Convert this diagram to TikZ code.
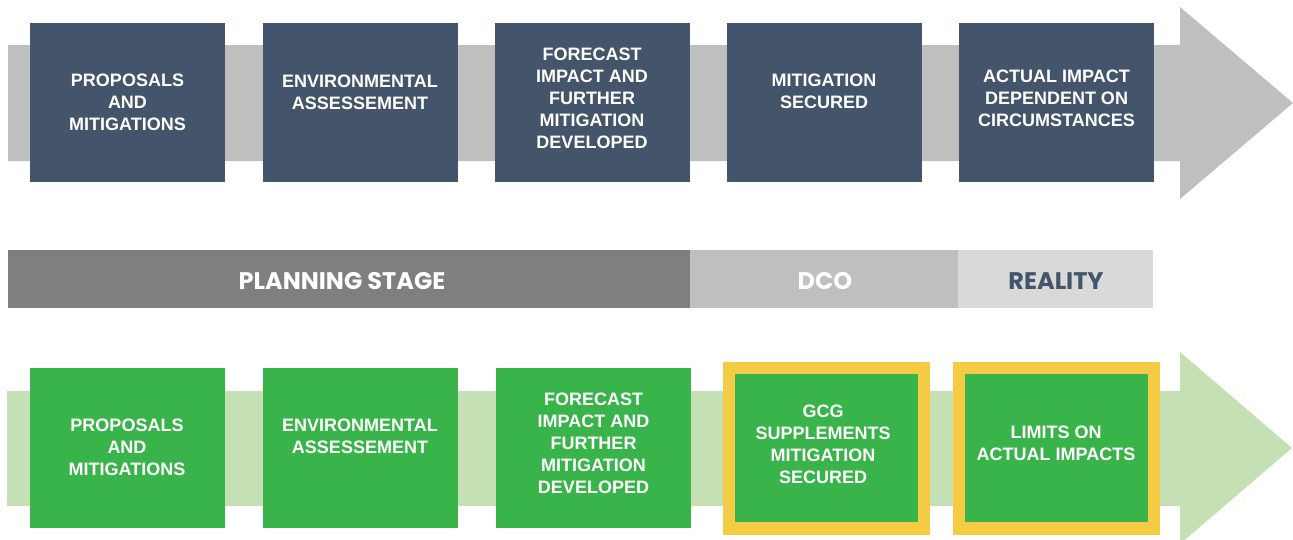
\documentclass[tikz,border=0pt]{standalone}
\usepackage{fontspec}
\setmainfont{Liberation Sans}
\newfontfamily\popfont{Poppins}
\definecolor{navy}{HTML}{44546A}
\definecolor{arrowgray}{HTML}{BFBFBF}
\definecolor{planning}{HTML}{7F7F7F}
\definecolor{dcogray}{HTML}{BFBFBF}
\definecolor{realgray}{HTML}{D9D9D9}
\definecolor{boxgreen}{HTML}{39B44A}
\definecolor{lightgreen}{HTML}{C5E0B4}
\definecolor{goldframe}{HTML}{F5CB44}
\begin{document}
\begin{tikzpicture}[x=1pt,y=-1pt,
  boxtxt/.style={text=white, font=\fontsize{18}{22}\selectfont\bfseries, align=center, inner sep=0pt},
  bandtxt/.style={font=\popfont\fontsize{24}{28}\selectfont\bfseries, inner sep=0pt},
  navybox/.style={fill=navy, draw=none, inner sep=0pt, minimum width=195pt, minimum height=159pt},
  greenbox/.style={fill=boxgreen, draw=none, inner sep=0pt, minimum width=195pt, minimum height=160pt},
  framebox/.style={fill=goldframe, draw=none, inner sep=0pt, minimum width=207pt, minimum height=173pt},
  innerbox/.style={fill=boxgreen, draw=none, inner sep=0pt, minimum width=183pt, minimum height=148pt},
  bandbox/.style={draw=none, inner sep=0pt, minimum height=58pt}
]
\useasboundingbox (0,0) rectangle (1293,539);
\clip (0,0) rectangle (1293,539);

% top arrow
\fill[arrowgray] (8,45) -- (1180,45) -- (1180,7) -- (1293,103) -- (1180,199) -- (1180,161) -- (8,161) -- cycle;

% top boxes
\node[navybox] (t1) at (127.5,102.5) {};
\node[navybox] (t2) at (360,102.5) {};
\node[navybox] (t3) at (592,102.5) {};
\node[navybox] (t4) at (824,102.5) {};
\node[navybox] (t5) at (1056.5,102.5) {};
\node[boxtxt] (t1txt) at (127.5,102) {PROPOSALS\\AND\\MITIGATIONS};
\node[boxtxt] (t2txt) at (360,92) {ENVIRONMENTAL\\ASSESSEMENT};
\node[boxtxt] (t3txt) at (592,98) {FORECAST\\IMPACT AND\\FURTHER\\MITIGATION\\DEVELOPED};
\node[boxtxt] (t4txt) at (824,91) {MITIGATION\\SECURED};
\node[boxtxt] (t5txt) at (1056.5,98) {ACTUAL IMPACT\\DEPENDENT ON\\CIRCUMSTANCES};

% band
\node[bandbox, fill=planning, minimum width=682pt] (plan) at (349,279) {};
\node[bandbox, fill=dcogray, minimum width=268pt] (dco) at (824,279) {};
\node[bandbox, fill=realgray, minimum width=195pt] (real) at (1055.5,279) {};
\node[bandtxt, text=white] (plantxt) at (342,281) {PLANNING STAGE};
\node[bandtxt, text=white] (dcotxt) at (825,281) {DCO};
\node[bandtxt, text=navy] (realtxt) at (1056,281) {REALITY};

% bottom arrow
\fill[lightgreen] (7,391) -- (1180,391) -- (1180,352) -- (1292,448) -- (1180,544) -- (1180,506) -- (7,506) -- cycle;

% bottom boxes
\node[greenbox] (b1) at (127,448) {};
\node[greenbox] (b2) at (360,448) {};
\node[greenbox] (b3) at (593.5,448) {};
\node[framebox] (b4frame) at (826.5,448.5) {};
\node[innerbox] (b4) at (826.5,448) {};
\node[framebox] (b5frame) at (1056.5,448.5) {};
\node[innerbox] (b5) at (1056,448) {};
\node[boxtxt] (b1txt) at (127,447) {PROPOSALS\\AND\\MITIGATIONS};
\node[boxtxt] (b2txt) at (360,436) {ENVIRONMENTAL\\ASSESSEMENT};
\node[boxtxt] (b3txt) at (593.5,443) {FORECAST\\IMPACT AND\\FURTHER\\MITIGATION\\DEVELOPED};
\node[boxtxt] (b4txt) at (823,444) {GCG\\SUPPLEMENTS\\MITIGATION\\SECURED};
\node[boxtxt] (b5txt) at (1056,443) {LIMITS ON\\ACTUAL IMPACTS};
\end{tikzpicture}
\end{document}
